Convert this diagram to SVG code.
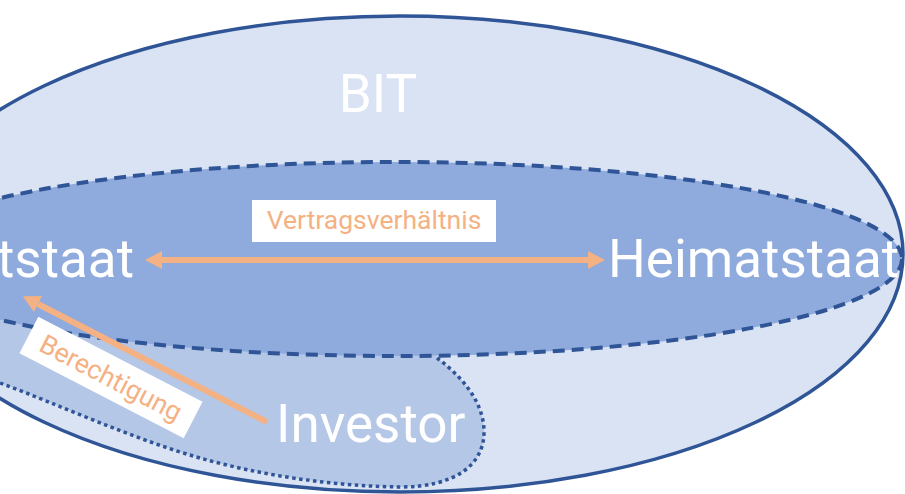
<svg xmlns="http://www.w3.org/2000/svg" width="905" height="494" viewBox="0 0 905 494">
  <style>
    .lbl { font-family: Roboto, "Liberation Sans", sans-serif; fill: #FFFFFF; }
    .big { font-size: 53px; }
    .tag { font-family: Roboto, "Liberation Sans", sans-serif; font-size: 26.5px; fill: #F4B183; text-anchor: middle; }
    .tagbox { fill: #FFFFFF; }
    .arrow { stroke: #F4B183; stroke-width: 6; fill: none; }
  </style>
  <defs>
    <marker id="head" markerUnits="userSpaceOnUse" markerWidth="18" markerHeight="18" refX="0" refY="9" orient="auto-start-reverse" viewBox="0 0 18 18">
      <path d="M0,0 L17,9 L0,18 Z" fill="#F4B183"/>
    </marker>
  </defs>
  <rect width="905" height="494" fill="#FFFFFF"/>

  <g id="bit">
    <ellipse cx="400" cy="254" rx="503" ry="238" fill="#DAE3F3" stroke="#2F5597" stroke-width="3.5"/>
    <text class="lbl big" x="378" y="112" text-anchor="middle">BIT</text>
  </g>

  <g id="investor">
    <path d="M430,330 L437,358 C460,375 483,400 484,430 C485,465 455,487 400,487 C330,486 260,475 200,458 C130,438 60,405 0,383 C-40,368 -70,340 -80,300 L-80,250 L430,250 Z" fill="#B4C7E7"/>
    <path d="M437,358 C460,375 483,400 484,430 C485,465 455,487 400,487 C330,486 260,475 200,458 C130,438 60,405 0,383 C-40,368 -70,340 -80,300" fill="none" stroke="#2F5597" stroke-width="3.5" stroke-dasharray="3.5 3.5"/>
  </g>

  <g id="vertrag-ellipse">
    <ellipse cx="395" cy="259" rx="507" ry="97" fill="#8FAADC" stroke="#2F5597" stroke-width="4" stroke-dasharray="12 7"/>
  </g>

  <g id="gaststaat">
    <text class="lbl big" x="-3" y="277">tstaat</text>
  </g>
  <g id="heimatstaat">
    <text class="lbl big" x="608" y="277">Heimatstaat</text>
  </g>
  <g id="investor-label">
    <text class="lbl big" x="276" y="442">Investor</text>
  </g>

  <g id="connectors">
    <path class="arrow" d="M162,260 L588,260" marker-start="url(#head)" marker-end="url(#head)"/>
    <path class="arrow" d="M267,422 L38,304" marker-end="url(#head)"/>
  </g>

  <g id="label-vertrag">
    <rect class="tagbox" x="252" y="200" width="244" height="42"/>
    <text class="tag" x="374" y="229">Vertragsverhältnis</text>
  </g>
  <g id="label-berechtigung" transform="translate(111,377.5) rotate(27.4)">
    <rect class="tagbox" x="-92.5" y="-20.5" width="185" height="41"/>
    <text class="tag" x="0" y="9.5">Berechtigung</text>
  </g>
</svg>
